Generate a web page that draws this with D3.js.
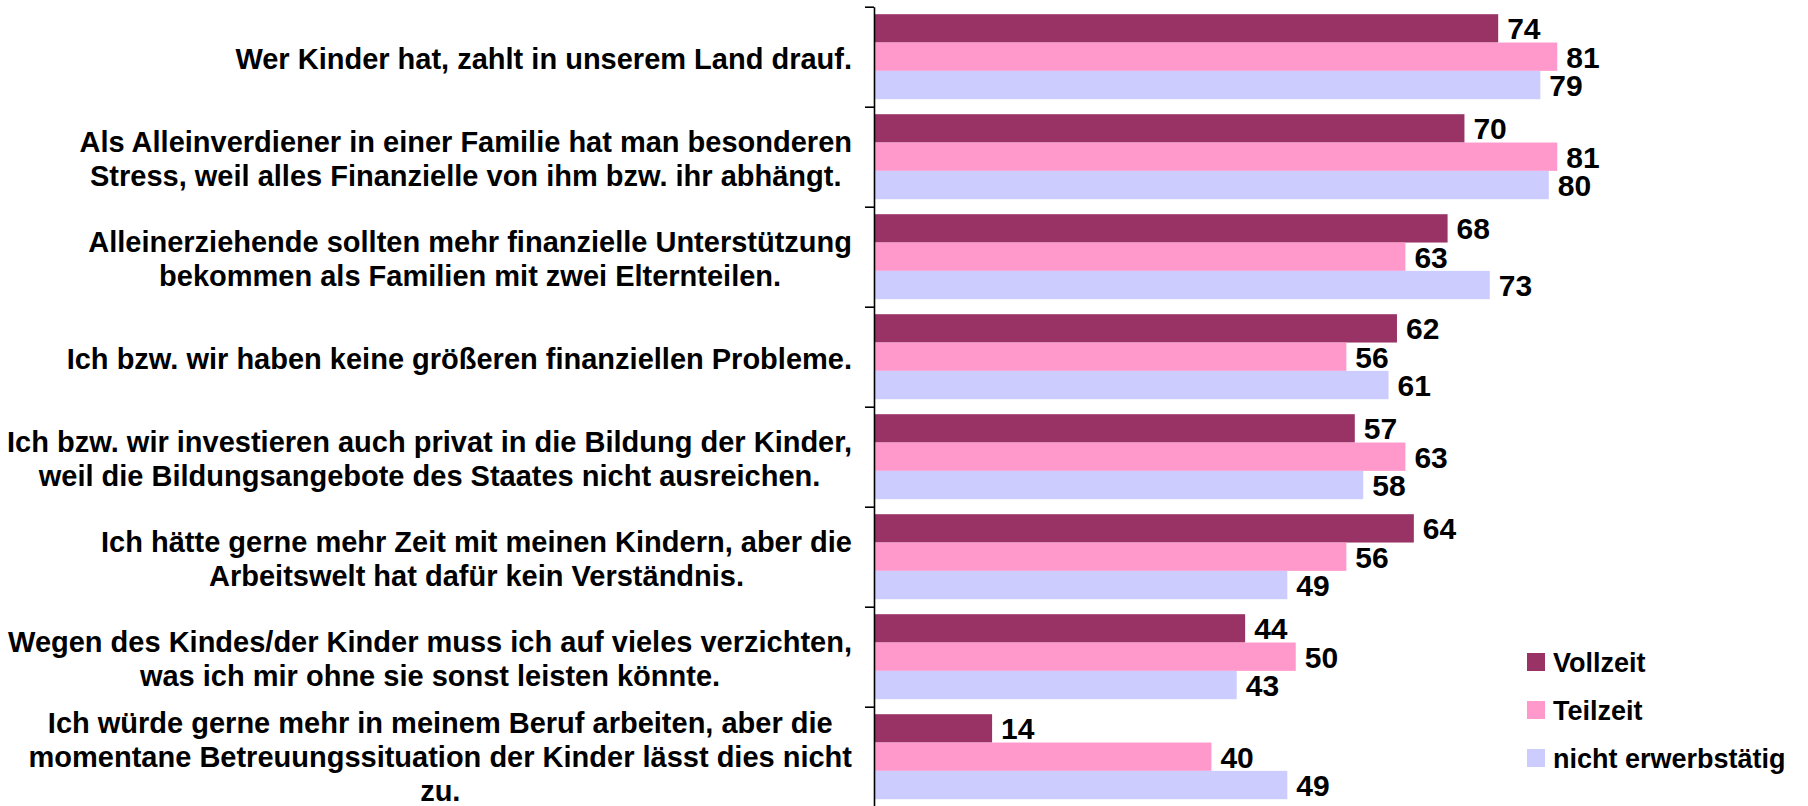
<!DOCTYPE html>
<html>
<head>
<meta charset="utf-8">
<script src="https://cdn.jsdelivr.net/npm/d3@7"></script>
<style>
  body { margin: 0; background: #fff; }
  text { font-family: "Liberation Sans", Arial, sans-serif; font-weight: bold; fill: #000; }
</style>
</head>
<body>
<svg id="chart" width="1808" height="806"></svg>
<script>
// Kategorien (Zeilen wie im Original umbrochen)
var categories = [
  ["Wer Kinder hat, zahlt in unserem Land drauf."],
  ["Als Alleinverdiener in einer Familie hat man besonderen", "Stress, weil alles Finanzielle von ihm bzw. ihr abhängt."],
  ["Alleinerziehende sollten mehr finanzielle Unterstützung", "bekommen als Familien mit zwei Elternteilen."],
  ["Ich bzw. wir haben keine größeren finanziellen Probleme."],
  ["Ich bzw. wir investieren auch privat in die Bildung der Kinder,", "weil die Bildungsangebote des Staates nicht ausreichen."],
  ["Ich hätte gerne mehr Zeit mit meinen Kindern, aber die", "Arbeitswelt hat dafür kein Verständnis."],
  ["Wegen des Kindes/der Kinder muss ich auf vieles verzichten,", "was ich mir ohne sie sonst leisten könnte."],
  ["Ich würde gerne mehr in meinem Beruf arbeiten, aber die", "momentane Betreuungssituation der Kinder lässt dies nicht", "zu."]
];
var series = ["Vollzeit", "Teilzeit", "nicht erwerbstätig"];
var vollzeit = [74, 70, 68, 62, 57, 64, 44, 14];
var teilzeit = [81, 81, 63, 56, 63, 56, 50, 40];
var nichtErwerbstaetig = [79, 80, 73, 61, 58, 49, 43, 49];
var colors = ["#993366", "#FF99CC", "#CCCCFF"];

var values = [vollzeit, teilzeit, nichtErwerbstaetig];
var svg = d3.select("#chart");

var axisX = 874;
var yTop = 6.7, yBottom = 806.7;

//比例尺
var x = d3.scaleLinear().domain([0, 100]).range([axisX, axisX + 843.5]);
var y = d3.scaleBand().domain(d3.range(categories.length)).range([yTop, yBottom])
  .paddingInner(0.15).paddingOuter(0.075);
var ySub = d3.scaleBand().domain(d3.range(series.length)).range([0, y.bandwidth()]);

// bars
series.forEach(function(s, si) {
  var g = svg.append("g");
  g.selectAll("rect")
    .data(values[si])
    .enter().append("rect")
      .attr("x", x(0) + 1)
      .attr("y", function(d, i) { return y(i) + ySub(si); })
      .attr("width", function(d) { return x(d) - x(0) - 1; })
      .attr("height", ySub.bandwidth())
      .attr("fill", colors[si]);
  g.selectAll("text")
    .data(values[si])
    .enter().append("text")
      .attr("x", function(d) { return x(d) + 9; })
      .attr("y", function(d, i) { return y(i) + ySub(si) + ySub.bandwidth() / 2; })
      .attr("dy", "0.36em")
      .style("font-size", "30px")
      .text(function(d) { return d; });
});

// axis with ticks on category boundaries
var yb = d3.scaleLinear().domain([0, categories.length]).range([yTop, yBottom]);
var axis = svg.append("g")
  .attr("transform", "translate(" + axisX + ",0)")
  .call(d3.axisLeft(yb).ticks(categories.length).tickFormat("").tickSize(9).tickSizeOuter(0));
axis.select(".domain").attr("stroke", "#000").attr("stroke-width", 1.6);
axis.selectAll(".tick line").attr("stroke", "#000").attr("stroke-width", 1.6);

// category labels: block right aligned, lines centered
var labelRight = 852;
var lineH = 34;
categories.forEach(function(lines, i) {
  var t = svg.append("text").style("font-size", "29px").attr("text-anchor", "middle");
  var cy = y(i) + y.bandwidth() / 2 + (lines.length > 2 ? 0 : 2);
  var spans = t.selectAll("tspan").data(lines).enter().append("tspan")
    .attr("y", function(d, k) { return cy + (k - (lines.length - 1) / 2) * lineH; })
    .attr("dy", "0.36em")
    .text(function(d) { return d; });
  var maxW = 0;
  spans.each(function() { maxW = Math.max(maxW, this.getComputedTextLength()); });
  spans.attr("x", labelRight - maxW / 2);
});

// legend
var legend = svg.append("g").attr("transform", "translate(1527,662)");
series.forEach(function(s, si) {
  var row = legend.append("g").attr("transform", "translate(0," + si * 48 + ")");
  row.append("rect").attr("x", 0).attr("y", -9).attr("width", 18).attr("height", 18).attr("fill", colors[si]);
  row.append("text").attr("x", 26).attr("y", 0).attr("dy", "0.36em")
    .style("font-size", "27px").text(s);
});
</script>
</body>
</html>
